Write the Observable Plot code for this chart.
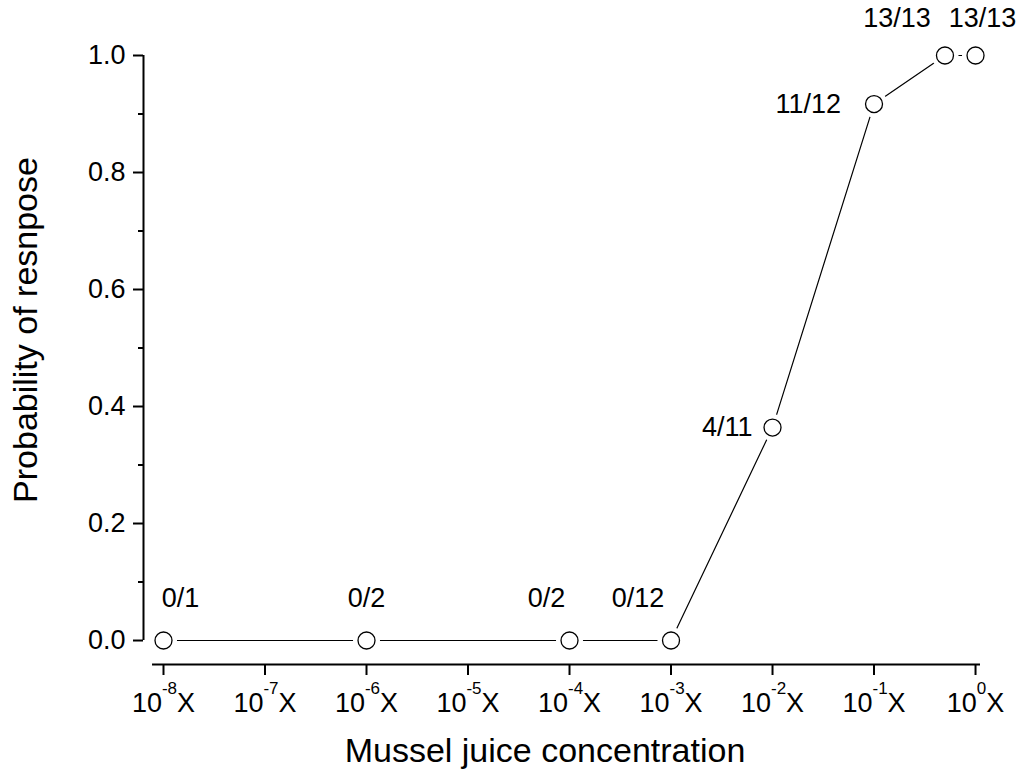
<!DOCTYPE html>
<html>
<head>
<meta charset="utf-8">
<script src="https://cdn.jsdelivr.net/npm/d3@7"></script>
<script src="https://cdn.jsdelivr.net/npm/@observablehq/plot@0.6"></script>
<style>
  html, body { margin: 0; padding: 0; background: #fff; }
  #chart { width: 1031px; height: 773px; }
</style>
</head>
<body>
<div id="chart"></div>
<script>
// ---- data ----
const concentration = [1e-8, 1e-6, 1e-4, 1e-3, 1e-2, 1e-1, 0.5, 1];
const probability = [0, 0, 0, 0, 0.364, 0.917, 1, 1];
const responseLabels = ["0/1", "0/2", "0/2", "0/12", "4/11", "11/12", "13/13", "13/13"];
const xTickExponents = [-8, -7, -6, -5, -4, -3, -2, -1, 0];
const yMajorTicks = [0, 0.2, 0.4, 0.6, 0.8, 1.0];
const yMinorTicks = [0.1, 0.3, 0.5, 0.7, 0.9];
const xTitle = "Mussel juice concentration";
const yTitle = "Probability of resnpose";

const data = concentration.map((c, i) => ({x: c, y: probability[i], label: responseLabels[i]}));

const font = "'Liberation Sans', Arial, Helvetica, sans-serif";
const xDomain = [10 ** -8.197, 10 ** 0.049];
const yDomain = [-0.041, 1];

function labelMark(i, opts) {
  return Plot.text(data, {filter: (d, j) => j === i, x: "x", y: "y", text: "label",
    fontSize: 27, fill: "black", ...opts});
}

const chart = Plot.plot({
  width: 1031,
  height: 773,
  marginLeft: 143,
  marginRight: 51,
  marginTop: 55,
  marginBottom: 109,
  style: {fontFamily: font, fontSize: "27px", color: "black", background: "white", overflow: "visible"},
  x: {type: "log", domain: xDomain},
  y: {domain: yDomain},
  marks: [
    // axis lines
    Plot.ruleX([xDomain[0]], {y1: 0, y2: 1, stroke: "black", strokeWidth: 2}),
    Plot.ruleY([yDomain[0]], {x1: 10 ** -8.108, x2: xDomain[1], stroke: "black", strokeWidth: 2}),
    Plot.axisY({ticks: yMajorTicks, tickSize: 10, tickPadding: 8, strokeWidth: 2,
      tickFormat: d3.format(".1f"), label: null, fontSize: 27}),
    Plot.axisY({ticks: yMinorTicks, tickSize: 5, strokeWidth: 2, tickFormat: () => "", label: null}),
    Plot.axisX({ticks: xTickExponents.map(e => 10 ** e), tickSize: 11, tickPadding: 17, strokeWidth: 2,
      tickFormat: d => String(Math.round(Math.log10(d))), label: null, fontSize: 27}),
    // data line and markers
    Plot.line(data, {x: "x", y: "y", stroke: "black", strokeWidth: 1.2}),
    Plot.dot(data, {x: "x", y: "y", r: 13.5, fill: "white", stroke: "none"}),
    Plot.dot(data, {x: "x", y: "y", r: 8.5, fill: "white", stroke: "black", strokeWidth: 1.3}),
    // response labels
    labelMark(0, {dx: 17, dy: -42}),
    labelMark(1, {dx: 0, dy: -42}),
    labelMark(2, {dx: -23, dy: -42}),
    labelMark(3, {dx: -33, dy: -42}),
    labelMark(4, {dx: -20, textAnchor: "end"}),
    labelMark(5, {dx: -33, textAnchor: "end"}),
    labelMark(6, {dx: -48, dy: -37}),
    labelMark(7, {dx: 7, dy: -37}),
    // titles
    Plot.text([xTitle], {frameAnchor: "bottom", dx: -17, dy: 97, fontSize: 34, fill: "black"}),
    Plot.text([yTitle], {frameAnchor: "left", textAnchor: "middle", rotate: -90, dx: -117, dy: -30,
      fontSize: 34, fill: "black"})
  ]
});

// superscript exponents on x tick labels: 10^n X
d3.select(chart).selectAll("g[aria-label='x-axis tick label'] text").each(function () {
  const exp = this.textContent;
  const t = d3.select(this);
  t.text(null);
  t.append("tspan").text("10");
  t.append("tspan").attr("font-size", 17).attr("dy", -18).text(exp);
  t.append("tspan").attr("dy", 18).text("X");
});

document.getElementById("chart").appendChild(chart);
</script>
</body>
</html>
